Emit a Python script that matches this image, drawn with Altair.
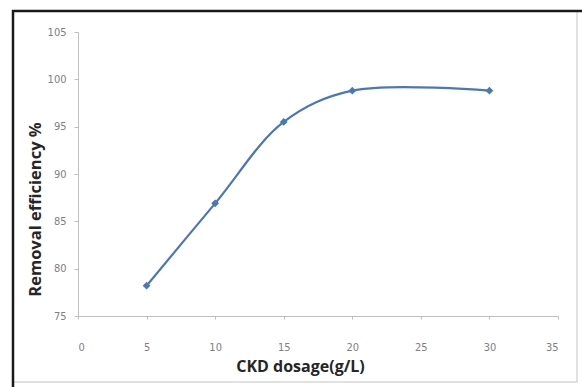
import altair as alt
import pandas as pd

# CKD dosage (g/L) vs. removal efficiency (%)
dosage = [5, 10, 15, 20, 30]
removal = [78.2, 86.9, 95.5, 98.8, 98.8]

x_ticks = [0, 5, 10, 15, 20, 25, 30, 35]
y_ticks = [75, 80, 85, 90, 95, 100, 105]

df = pd.DataFrame({"dosage": dosage, "removal": removal})

LABEL_FONT = "Liberation Sans Narrow, DejaVu Sans Condensed, sans-serif"
TITLE_FONT = "Open Sans, Liberation Sans, sans-serif"
SERIES = "#4A78B4"

x_enc = alt.X(
    "dosage:Q",
    scale=alt.Scale(domain=[0, 35], nice=False, zero=False),
    axis=alt.Axis(
        values=x_ticks,
        title="CKD dosage(g/L)",
        titleFont=TITLE_FONT,
        titleFontSize=16,
        titleFontWeight="bold",
        titleColor="#262626",
        titleX=222,
        titleY=50,
        titleBaseline="middle",
        titleAlign="center",
        labelFont=LABEL_FONT,
        labelFontSize=11,
        labelColor="#808080",
        labelPadding=22,
        tickSize=3,
        tickColor="#bfbfbf",
        domainColor="#bfbfbf",
        grid=False,
    ),
)

y_enc = alt.Y(
    "removal:Q",
    scale=alt.Scale(domain=[75, 105], nice=False, zero=False),
    axis=alt.Axis(
        values=y_ticks,
        title="Removal efficiency %",
        titleFont=TITLE_FONT,
        titleFontSize=16.5,
        titleFontWeight="bold",
        titleColor="#262626",
        titleX=-43,
        titleY=177,
        titleBaseline="middle",
        titleAlign="center",
        titleAngle=270,
        labelFont=LABEL_FONT,
        labelFontSize=11,
        labelColor="#808080",
        labelPadding=8,
        tickSize=4,
        tickColor="#bfbfbf",
        domainColor="#bfbfbf",
        grid=False,
    ),
)

curve = alt.Chart(df).mark_line(
    interpolate="catmull-rom", color=SERIES, strokeWidth=2.2
).encode(x=x_enc, y=y_enc)

markers = alt.Chart(df).mark_point(
    shape="diamond", filled=True, color=SERIES, size=60, opacity=1
).encode(x="dosage:Q", y="removal:Q")

# Picture frame around the whole chart
frame_src = alt.Data(values=[{"k": 0}])
frame = alt.Chart(frame_src).mark_rect(
    fill=None, stroke="#d8d8d8", strokeWidth=1.5
).encode(
    x=alt.value(-65), x2=alt.value(499), y=alt.value(-21), y2=alt.value(350)
)
top_edge = alt.Chart(frame_src).mark_rule(color="#1a1a1a", strokeWidth=2.5).encode(
    x=alt.value(-66), x2=alt.value(504), y=alt.value(-21)
)
left_edge = alt.Chart(frame_src).mark_rule(color="#1a1a1a", strokeWidth=2.5).encode(
    x=alt.value(-65), y=alt.value(-22), y2=alt.value(356)
)

chart = (
    alt.layer(frame, top_edge, left_edge, curve, markers)
    .properties(
        width=480,
        height=284,
        autosize=alt.AutoSizeParams(type="none"),
        padding={"left": 78, "top": 32, "right": 24, "bottom": 71},
        background="white",
    )
    .configure_view(stroke=None)
)

chart.save("out.html", embed_options={"renderer": "svg", "actions": False})
